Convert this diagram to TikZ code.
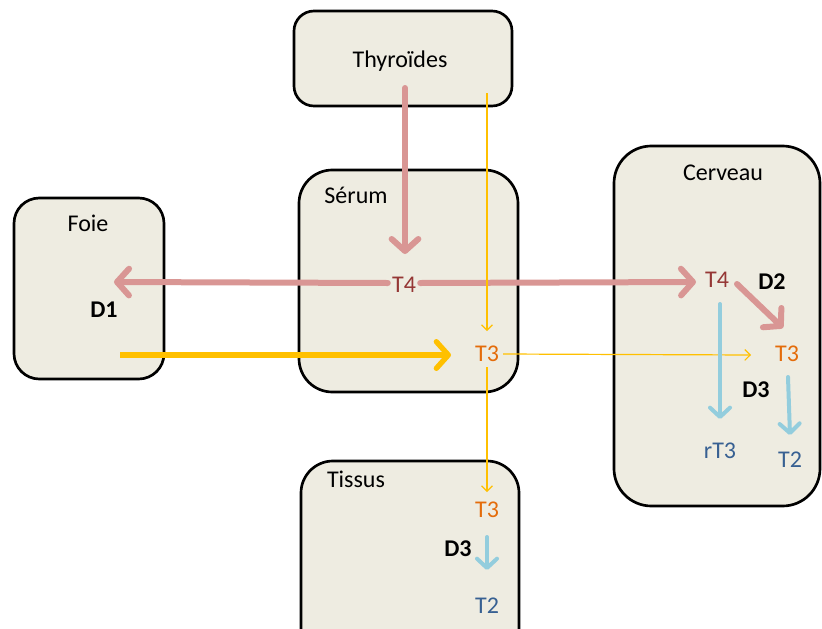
\documentclass[tikz,border=0pt]{standalone}
\usepackage{fontspec}
\setmainfont{Carlito}
\usetikzlibrary{arrows.meta}
\definecolor{boxfill}{HTML}{EEECE1}
\definecolor{pinkc}{HTML}{D99694}
\definecolor{t4c}{HTML}{953735}
\definecolor{t3c}{HTML}{E46C0A}
\definecolor{yelc}{HTML}{FFC000}
\definecolor{bluec}{HTML}{93CDDD}
\definecolor{t2c}{HTML}{376092}
\tikzset{
  organ/.style={draw=black, line width=2pt, fill=boxfill},
  lbl/.style={font=\fontsize{18}{21}\selectfont, inner sep=0pt, anchor=center},
  enz/.style={font=\fontsize{18}{21}\selectfont\bfseries, inner sep=0pt},
  pinkarrow/.style={draw=pinkc, line width=4.5pt, line cap=round, -{Straight Barb[length=9pt, width=20pt, line width=4.5pt, round]}},
  yelthick/.style={draw=yelc, line width=4pt, -{Straight Barb[length=9pt, width=20pt, line width=4pt, round]}},
  yelthin/.style={draw=yelc, line width=0.9pt, -{Straight Barb[length=4pt, width=8pt, line width=0.9pt]}},
  bluearrow/.style={draw=bluec, line width=3pt, line cap=round, -{Straight Barb[length=7pt, width=15pt, line width=3pt, round]}},
}
\begin{document}
\begin{tikzpicture}[x=0.75pt, y=-0.75pt]
\useasboundingbox (0,0) rectangle (822,629);
\clip (0,0) rectangle (822,629);
% boxes
\draw[organ, rounded corners=15pt] (294,11) rectangle (512,106);
\draw[organ, rounded corners=25pt] (299,170) rectangle (518,392);
\draw[organ, rounded corners=19pt] (14,198) rectangle (164,379);
\draw[organ, rounded corners=28pt] (614,146) rectangle (820,506);
\draw[organ, rounded corners=24pt] (301,461) rectangle (519,660);
% labels
\node[lbl] (thy) at (400,61) {Thyroïdes};
\node[lbl] (ser) at (356,195) {Sérum};
\node[lbl] (foie) at (88,223) {Foie};
\node[lbl] (cer) at (723,173) {Cerveau};
\node[lbl] (tis) at (356,479) {Tissus};
\node[enz] (d1) at (104,310) {D1};
\node[lbl, text=t4c] (t4s) at (404,285) {T4};
\node[lbl, text=t3c] (t3s) at (487,354) {T3};
\node[lbl, text=t4c] (t4b) at (717,280) {T4};
\node[enz] (d2) at (772,282) {D2};
\node[lbl, text=t3c] (t3b) at (787,354) {T3};
\node[enz] (d3b) at (756,390) {D3};
\node[lbl, text=t2c] (rt3) at (720,451) {rT3};
\node[lbl, text=t2c] (t2b) at (790,460) {T2};
\node[lbl, text=t3c] (t3t) at (487,510) {T3};
\node[enz] (d3t) at (458,549) {D3};
\node[lbl, text=t2c] (t2t) at (487,606) {T2};
% coordinates
\coordinate (thyout) at (405,88);
\coordinate (thyyel) at (487,93);
\coordinate (serin) at (405,254);
\coordinate (foiein) at (114,282);
\coordinate (foieout) at (120,355);
\coordinate (t3sin) at (451,355);
\coordinate (t3sin2) at (487,331);
\coordinate (t4bin) at (696,282);
\coordinate (t3bin) at (751,355);
\coordinate (t3tin) at (487,492);
% pink arrows
\draw[pinkarrow] (t4s.west) ++(-4,-2) -- (foiein);
\draw[pinkarrow] (t4s.east) ++(4,-2) -- (t4bin);
\draw[pinkarrow] (thyout) -- (serin);
\draw[pinkarrow] (737,284) -- (783,328);
% yellow arrows
\draw[yelthick] (foieout) -- (t3sin);
\draw[yelthin] (thyyel) -- (t3sin2);
\draw[yelthin] (t3s.east) ++(4,0) -- (t3bin);
\draw[yelthin] (t3s.south) ++(0,5) -- (t3tin);
% blue arrows
\draw[bluearrow] (720,304) -- (720,419);
\draw[bluearrow] (788,377) -- (790,435);
\draw[bluearrow] (487,537) -- (487,570);
\end{tikzpicture}
\end{document}
